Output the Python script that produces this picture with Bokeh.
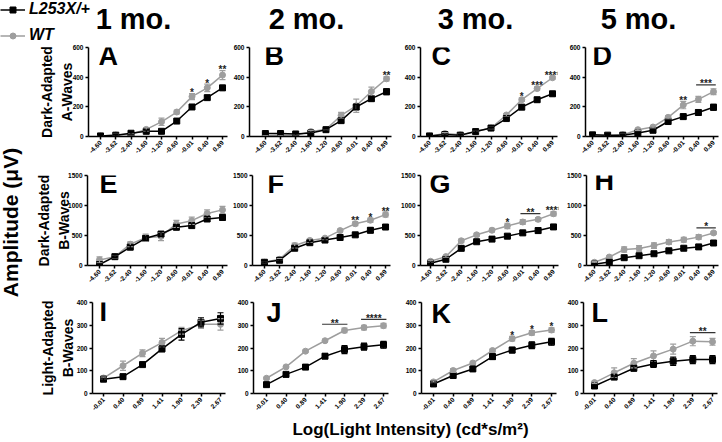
import math
import numpy as np
from bokeh.plotting import figure
from bokeh.models import (ColumnDataSource, Range1d, FixedTicker, Whisker, TeeHead,
                          Label, Legend, LegendItem, CustomJSTickFormatter)
from bokeh.layouts import column, row
from bokeh.embed import file_html
from bokeh.resources import INLINE
from bokeh.core.properties import value

# ---------------- data ----------------
dark_x = ["-4.60", "-3.62", "-2.40", "-1.60", "-1.20", "-0.60", "-0.01", "0.40", "0.89"]
light_x = ["-0.01", "0.40", "0.89", "1.41", "1.90", "2.39", "2.67"]
col_titles = ["1 mo.", "2 mo.", "3 mo.", "5 mo."]
row_titles = ["Dark-Adapted\nA-Waves", "Dark-Adapted\nB-Waves", "Light-Adapted\nB-Waves"]

# Panel A (1 mo., dark-adapted a-wave)
A_mut = [4, 9, 22, 35, 35, 104, 199, 262, 328]
A_mut_err = [3, 4, 6, 8, 12, 8, 10, 12, 15]
A_wt = [3, 10, 15, 48, 99, 165, 269, 328, 414]
A_wt_err = [3, 4, 5, 10, 25, 12, 20, 25, 30]
A_sig = [(6, 6, "*"), (7, 7, "*"), (8, 8, "**")]
# Panel B
B_mut = [20, 20, 17, 24, 46, 107, 199, 255, 302]
B_mut_err = [6, 5, 6, 5, 8, 10, 18, 15, 20]
B_wt = [5, 8, 8, 33, 48, 142, 207, 303, 389]
B_wt_err = [3, 3, 4, 6, 6, 20, 45, 30, 15]
B_sig = [(8, 8, "**")]
# Panel C
C_mut = [4, 13, 9, 33, 57, 121, 198, 248, 288]
C_mut_err = [3, 4, 4, 5, 5, 10, 15, 15, 15]
C_wt = [2, 20, 11, 33, 57, 145, 248, 323, 396]
C_wt_err = [2, 6, 4, 5, 5, 10, 12, 12, 10]
C_sig = [(6, 6, "*"), (7, 7, "***"), (8, 8, "****")]
# Panel D
D_mut = [11, 9, 9, 24, 42, 101, 134, 162, 197]
D_mut_err = [4, 3, 3, 5, 6, 10, 15, 18, 20]
D_wt = [4, 4, 11, 46, 64, 129, 212, 250, 302]
D_wt_err = [3, 3, 4, 6, 6, 10, 25, 20, 20]
D_sig = [(6, 6, "**"), (7, 8, "***")]
# Panel E (dark-adapted b-wave)
E_mut = [16, 147, 305, 453, 524, 638, 665, 775, 801]
E_mut_err = [10, 15, 25, 35, 40, 40, 40, 40, 40]
E_wt = [93, 147, 355, 464, 485, 693, 747, 867, 927]
E_wt_err = [50, 20, 40, 60, 70, 60, 60, 60, 60]
E_sig = []
# Panel F
F_mut = [54, 87, 288, 380, 424, 467, 511, 587, 641]
F_mut_err = [8, 10, 25, 20, 20, 20, 30, 40, 40]
F_wt = [54, 103, 332, 418, 456, 582, 696, 755, 848]
F_wt_err = [8, 12, 40, 30, 25, 20, 30, 35, 40]
F_sig = [(6, 6, "**"), (7, 7, "*"), (8, 8, "**")]
# Panel G
G_mut = [38, 104, 286, 396, 440, 489, 544, 582, 643]
G_mut_err = [20, 15, 20, 15, 30, 30, 35, 40, 40]
G_wt = [71, 148, 412, 511, 588, 659, 725, 769, 862]
G_wt_err = [15, 15, 30, 25, 30, 45, 40, 30, 35]
G_sig = [(5, 5, "*"), (6, 7, "**"), (8, 8, "****")]
# Panel H
H_mut = [22, 60, 130, 163, 196, 245, 288, 310, 375]
H_mut_err = [10, 10, 15, 15, 20, 25, 30, 35, 35]
H_wt = [54, 141, 266, 283, 332, 391, 429, 473, 543]
H_wt_err = [10, 20, 45, 50, 45, 40, 40, 40, 20]
H_sig = [(7, 8, "*")]
# Panel I (light-adapted b-wave)
I_mut = [63, 74, 127, 196, 260, 313, 330]
I_mut_err = [4, 10, 5, 12, 25, 20, 25]
I_wt = [68, 122, 177, 224, 276, 304, 304]
I_wt_err = [4, 20, 15, 18, 15, 18, 25]
I_sig = []
# Panel J
J_mut = [39, 84, 116, 164, 193, 206, 214]
J_mut_err = [5, 8, 10, 10, 18, 15, 15]
J_wt = [67, 117, 186, 232, 277, 290, 298]
J_wt_err = [4, 5, 5, 6, 10, 10, 10]
J_sig = [(3, 4, "**"), (5, 6, "****")]
# Panel K
K_mut = [42, 79, 108, 162, 191, 212, 227]
K_mut_err = [4, 6, 8, 12, 12, 15, 15]
K_wt = [51, 101, 134, 189, 241, 267, 279]
K_wt_err = [4, 8, 6, 6, 10, 10, 10]
K_sig = [(4, 4, "*"), (5, 5, "*"), (6, 6, "*")]
# Panel L
L_mut = [33, 72, 111, 130, 142, 149, 149]
L_mut_err = [5, 6, 12, 15, 18, 18, 18]
L_wt = [48, 91, 133, 165, 195, 230, 227]
L_wt_err = [5, 22, 20, 22, 22, 20, 15]
L_sig = [(5, 6, "**")]

# ---------------- styling / layout ----------------
FONT = "Liberation Sans"
BLACK = "#000000"
GRAY = "#9e9e9e"
STAR = "#222222"
MID = 0.34  # baseline offset of a "middle"-anchored label, in font sizes

HEAD_H = 42
# fig_x0, fig_w, fig_y0, fig_h, axis_x, first_pt, last_pt, frame_top, frame_bottom, letter_x, letter_base
GEOM = {
    "A": (32, 198, 42, 121, 88, 100, 222, 47, 137, 99, 66),
    "B": (230, 168, 42, 121, 248, 264, 386, 44, 136, 264, 65),
    "C": (398, 166, 42, 121, 420, 429, 552, 45, 136, 432, 65),
    "D": (564, 156, 42, 121, 585, 592, 713, 44, 136, 593, 65),
    "E": (32, 198, 163, 127, 87, 99, 222, 174, 266, 100, 194),
    "F": (230, 168, 163, 127, 251, 263, 385, 173, 265, 267, 193),
    "G": (398, 166, 163, 127, 420, 430, 553, 174, 265, 430, 193),
    "H": (564, 156, 163, 127, 584, 592, 713, 175, 267, 593, 192),
    "I": (32, 198, 290, 125, 92, 103, 220, 302, 394, 100, 322),
    "J": (230, 168, 290, 125, 253, 266, 383, 302, 394, 267, 323),
    "K": (398, 166, 290, 125, 421, 433, 551, 301, 393, 432, 323),
    "L": (564, 156, 290, 125, 583, 594, 712, 301, 393, 592, 322),
}


def style_axis(a):
    a.axis_line_width = 1.5
    a.axis_line_color = BLACK
    a.major_tick_line_width = 1.5
    a.major_tick_out = 3
    a.major_tick_in = 0
    a.minor_tick_out = 0
    a.minor_tick_in = 0
    a.major_label_text_font = FONT
    a.major_label_text_font_style = "bold"
    a.major_label_text_font_size = "6.5px"
    a.major_label_text_color = BLACK
    a.major_label_standoff = 2


def make_panel(letter, cats, mut, mut_err, wt, wt_err, ymax, ystep, sig,
               row_label=None, lab_standoff=0):
    fx0, fw, fy0, fh, ax, p0, p1, ftop, fbot, lx, lb = GEOM[letter]
    n = len(cats)
    dx = (p1 - p0) / (n - 1)
    fr = min(p1 + 5, fx0 + fw - 2)
    p = figure(width=fw, height=fh,
               x_range=Range1d((ax - p0) / dx, (fr - p0) / dx),
               y_range=Range1d(0, ymax),
               output_backend="svg", toolbar_location=None,
               min_border_left=ax - fx0, min_border_right=fx0 + fw - fr,
               min_border_top=ftop - fy0, min_border_bottom=fy0 + fh - fbot)
    p.outline_line_color = None
    p.grid.visible = False
    style_axis(p.xaxis[0])
    style_axis(p.yaxis[0])
    p.xaxis.ticker = FixedTicker(ticks=list(range(n)))
    p.xaxis.formatter = CustomJSTickFormatter(args=dict(labels=cats),
                                              code="const i = Math.round(tick); return (i >= 0 && i < labels.length) ? labels[i] : '';")
    p.xaxis.major_label_orientation = math.pi / 4
    p.yaxis.ticker = FixedTicker(ticks=list(range(0, ymax + 1, ystep)))
    if row_label:
        p.yaxis.axis_label = row_label
        p.yaxis.axis_label_text_font = FONT
        p.yaxis.axis_label_text_font_style = "bold"
        p.yaxis.axis_label_text_font_size = "14px"
        p.yaxis.axis_label_text_line_height = 1.25
        p.yaxis.axis_label_text_color = BLACK
        p.yaxis.axis_label_standoff = lab_standoff

    idx = list(range(n))
    wt_a, wte = np.array(wt, float), np.array(wt_err, float)
    mu_a, mue = np.array(mut, float), np.array(mut_err, float)
    s_wt = ColumnDataSource(dict(x=idx, y=wt_a, lo=wt_a - wte, hi=wt_a + wte))
    s_mu = ColumnDataSource(dict(x=idx, y=mu_a, lo=mu_a - mue, hi=mu_a + mue))

    for src, col, marker in ((s_wt, GRAY, "circle"), (s_mu, BLACK, "square")):
        p.line("x", "y", source=src, line_color=col, line_width=1.5)
        p.add_layout(Whisker(source=src, base="x", upper="hi", lower="lo",
                             line_color=col, line_width=1.2, level="glyph",
                             upper_head=TeeHead(size=6, line_color=col, line_width=1.2),
                             lower_head=TeeHead(size=6, line_color=col, line_width=1.2)))
        p.scatter("x", "y", source=src, marker=marker, size=6,
                  fill_color=col, line_color=col)

    # significance markers
    px_per_unit = (fbot - ftop) / ymax
    top_all = np.maximum(wt_a + wte, mu_a + mue)
    sx, sy, st = [], [], []
    bx0, bx1, by = [], [], []
    for i0, i1, txt in sig:
        top = float(top_all[i0:i1 + 1].max())
        if i0 == i1:
            sx.append(i0)
            sy.append(top + 1.0 / px_per_unit)
            st.append(txt)
        else:
            yb = top + 4.0 / px_per_unit
            bx0.append(i0 - 0.15)
            bx1.append(i1 + 0.15)
            by.append(yb)
            sx.append((i0 + i1) / 2)
            sy.append(yb + 1.0 / px_per_unit)
            st.append(txt)
    if bx0:
        p.segment(x0=bx0, y0=by, x1=bx1, y1=by, line_color="#333333", line_width=1.2)
    if sx:
        p.text(x=sx, y=sy, text=st, text_align="center", text_baseline="alphabetic",
               text_font=value(FONT), text_font_size="10px", text_font_style="bold",
               text_color=STAR)

    size = 27
    p.add_layout(Label(x=lx - ax - 1, y=fbot - (lb - MID * size), x_units="screen", y_units="screen",
                       text=letter, text_font=FONT, text_font_size=f"{size}px",
                       text_font_style="bold", text_color=BLACK,
                       text_baseline="middle", text_align="left"))
    return p


def blank(w, h):
    f = figure(width=w, height=h, x_range=Range1d(0, w), y_range=Range1d(0, h),
               x_axis_type=None, y_axis_type=None, output_backend="svg",
               toolbar_location=None, min_border=0)
    f.outline_line_color = None
    f.grid.visible = False
    return f


pA = make_panel("A", dark_x, A_mut, A_mut_err, A_wt, A_wt_err, 600, 200, A_sig, row_titles[0], -5)
pB = make_panel("B", dark_x, B_mut, B_mut_err, B_wt, B_wt_err, 600, 200, B_sig)
pC = make_panel("C", dark_x, C_mut, C_mut_err, C_wt, C_wt_err, 600, 200, C_sig)
pD = make_panel("D", dark_x, D_mut, D_mut_err, D_wt, D_wt_err, 600, 200, D_sig)
pE = make_panel("E", dark_x, E_mut, E_mut_err, E_wt, E_wt_err, 1500, 500, E_sig, row_titles[1], -7)
pF = make_panel("F", dark_x, F_mut, F_mut_err, F_wt, F_wt_err, 1500, 500, F_sig)
pG = make_panel("G", dark_x, G_mut, G_mut_err, G_wt, G_wt_err, 1500, 500, G_sig)
pH = make_panel("H", dark_x, H_mut, H_mut_err, H_wt, H_wt_err, 1500, 500, H_sig)
pI = make_panel("I", light_x, I_mut, I_mut_err, I_wt, I_wt_err, 400, 100, I_sig, row_titles[2], -2)
pJ = make_panel("J", light_x, J_mut, J_mut_err, J_wt, J_wt_err, 400, 100, J_sig)
pK = make_panel("K", light_x, K_mut, K_mut_err, K_wt, K_wt_err, 400, 100, K_sig)
pL = make_panel("L", light_x, L_mut, L_mut_err, L_wt, L_wt_err, 400, 100, L_sig)

# header: legend + column titles
header = blank(720, HEAD_H)
nan = float("nan")
lr1 = header.line(x=[nan], y=[nan], line_color=BLACK, line_width=1.5)
sr1 = header.scatter(x=[nan], y=[nan], marker="square", size=6, fill_color=BLACK, line_color=BLACK)
lr2 = header.line(x=[nan], y=[nan], line_color=GRAY, line_width=1.5)
sr2 = header.scatter(x=[nan], y=[nan], marker="circle", size=7, fill_color=GRAY, line_color=GRAY)
legend = Legend(items=[LegendItem(label="L253X/+", renderers=[lr1, sr1]),
                       LegendItem(label="WT", renderers=[lr2, sr2])],
                location="top_left", orientation="vertical",
                border_line_color=None, background_fill_alpha=0,
                padding=0, margin=0, spacing=8,
                glyph_width=25, glyph_height=15, label_height=15, label_standoff=4,
                label_text_font=FONT, label_text_font_size="16px",
                label_text_font_style="bold italic", label_text_color=BLACK)
header.add_layout(legend)
TSIZE = 29
for t, cx in zip(col_titles, [133, 306, 475, 638]):
    header.add_layout(Label(x=cx, y=HEAD_H - (28 - MID * TSIZE), x_units="screen", y_units="screen",
                            text=t, text_font=FONT, text_font_size=f"{TSIZE}px",
                            text_font_style="bold", text_align="center",
                            text_baseline="middle", text_color=BLACK))

# left: shared y label
LEFT_Y0 = HEAD_H
LEFT_H = 415 - LEFT_Y0
left = blank(32, LEFT_H)
left.add_layout(Label(x=10, y=LEFT_H - (222 - LEFT_Y0), x_units="screen", y_units="screen",
                      text="Amplitude (\u03bcV)", angle=math.pi / 2,
                      text_font=FONT, text_font_size="21px", text_font_style="bold",
                      text_align="center", text_baseline="middle", text_color=BLACK))

# footer: shared x label
FOOT_H = 26
footer = blank(720, FOOT_H)
FSIZE = 17
footer.add_layout(Label(x=410, y=FOOT_H - (435 - 415 - MID * FSIZE), x_units="screen", y_units="screen",
                        text="Log(Light Intensity) (cd*s/m\u00b2)",
                        text_font=FONT, text_font_size=f"{FSIZE}px", text_font_style="bold",
                        text_align="center", text_baseline="middle", text_color=BLACK))

grid = column(row(pA, pB, pC, pD), row(pE, pF, pG, pH), row(pI, pJ, pK, pL))
layout = column(header, row(left, grid), footer)

open("out.html", "w").write(file_html(layout, INLINE, title="ERG amplitudes"))
